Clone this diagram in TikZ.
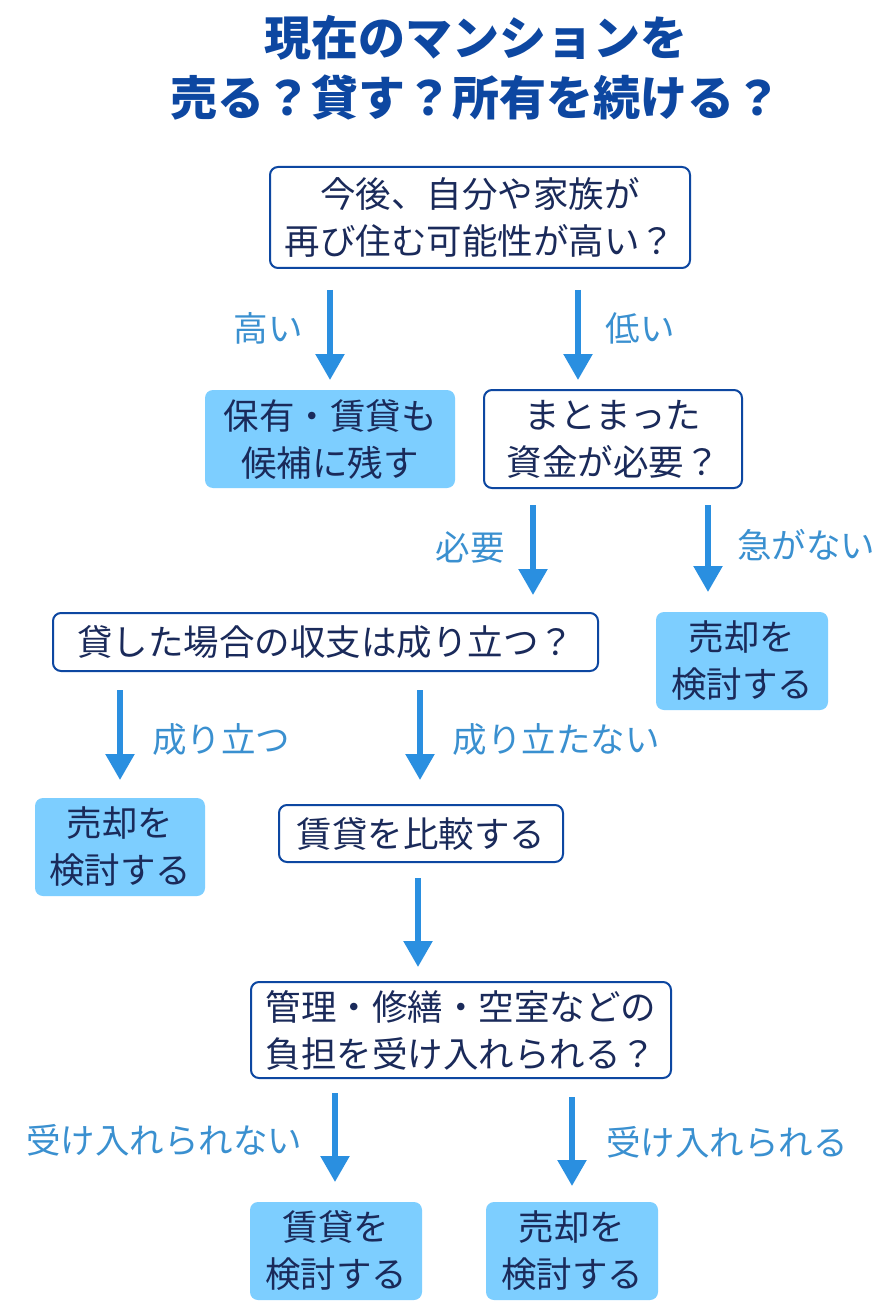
\documentclass[tikz,border=0pt]{standalone}
\usepackage{fontspec}
\setmainfont{Noto Sans CJK JP}
\usetikzlibrary{arrows.meta}
\definecolor{navy}{HTML}{0D47A1}
\definecolor{txt}{HTML}{1A2A5A}
\definecolor{arr}{HTML}{2A8FE0}
\definecolor{lbl}{HTML}{3A90D0}
\definecolor{fillb}{HTML}{7DCEFF}
\begin{document}
\begin{tikzpicture}[x=1pt,y=-1pt,
  q/.style={draw=navy,line width=2pt,rounded corners=8pt,fill=white,text=txt,align=center,inner sep=0pt,font=\fontsize{35.5}{47}\selectfont},
  r/.style={fill=fillb,rounded corners=8pt,text=txt,align=center,inner sep=0pt,font=\fontsize{35.5}{47}\selectfont},
  ar/.style={draw=arr,line width=5.5pt,-{Triangle[length=26pt,width=28pt]}},
  lb/.style={text=lbl,font=\fontsize{34.5}{40}\selectfont}]
\useasboundingbox (0,0) rectangle (890,1313);
\fill[white] (0,0) rectangle (890,1313);
\node[text=navy,align=center,font=\fontsize{47}{60}\bfseries\selectfont] (t) at (476,68) {現在のマンションを\\売る？貸す？所有を続ける？};
\node[q,minimum width=420,minimum height=101] (b1) at (480,217.5) {今後、自分や家族が\\再び住む可能性が高い？};
\node[r,minimum width=250,minimum height=98] (h) at (330,439) {保有・賃貸も\\候補に残す};
\node[q,minimum width=258,minimum height=98] (m) at (613,439) {まとまった\\資金が必要？};
\node[q,minimum width=545,minimum height=58] (k) at (325.5,642) {貸した場合の収支は成り立つ？};
\node[r,minimum width=172,minimum height=98] (s1) at (742,661) {売却を\\検討する};
\node[r,minimum width=170,minimum height=98] (s2) at (120,847) {売却を\\検討する};
\node[q,minimum width=284,minimum height=57] (c) at (421,833.5) {賃貸を比較する};
\node[q,minimum width=420,minimum height=96] (f) at (461,1030) {管理・修繕・空室などの\\負担を受け入れられる？};
\node[r,minimum width=172,minimum height=98] (s3) at (336,1251) {賃貸を\\検討する};
\node[r,minimum width=172,minimum height=98] (s4) at (572,1251) {売却を\\検討する};
\foreach \n/\xa/\ya/\xb/\yb in {a1/330/290/330/380, a2/578/290/578/380, a3/533/505/533/595, a4/708/505/708/592, a5/120/690/120/780, a6/420/690/420/780, a7/418/878/418/967, a8/335/1093/335/1182, a9/572/1097/572/1186}{
  \coordinate (\n s) at (\xa,\ya); \coordinate (\n e) at (\xb,\yb);
  \draw[ar] (\n s) -- (\n e);}
\node[lb] (l1) at (268,328) {高い};
\node[lb] (l2) at (640,328) {低い};
\node[lb] (l3) at (470,547) {必要};
\node[lb] (l4) at (806,545) {急がない};
\node[lb] (l5) at (221,740) {成り立つ};
\node[lb] (l6) at (556,740) {成り立たない};
\node[lb] (l7) at (164,1140) {受け入れられない};
\node[lb] (l8) at (727,1142) {受け入れられる};
\end{tikzpicture}
\end{document}
